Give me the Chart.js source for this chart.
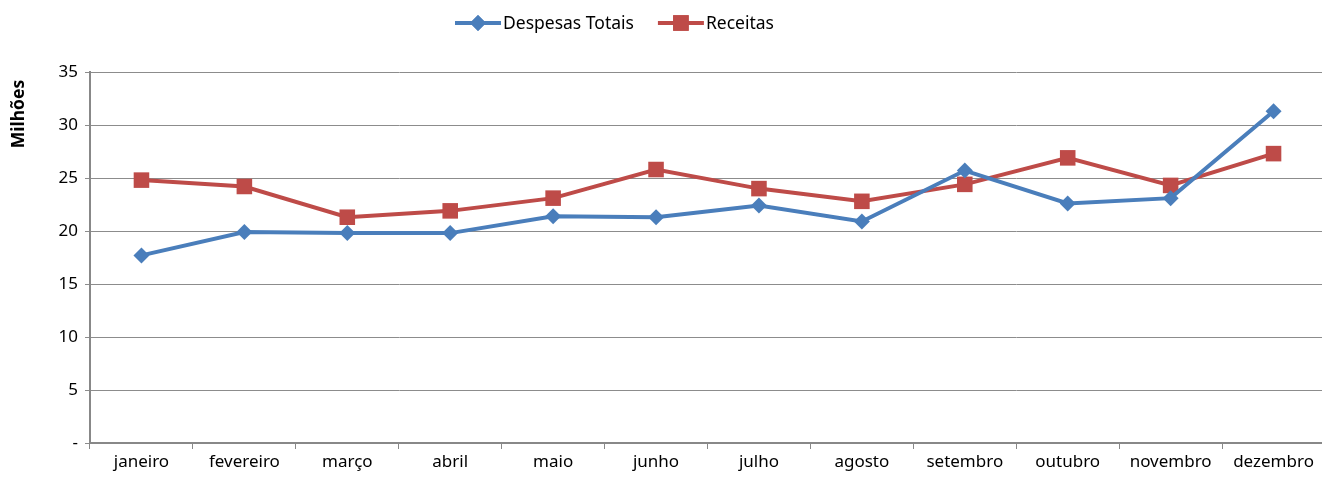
<!DOCTYPE html>
<html>
<head>
<meta charset="utf-8">
<script src="https://cdn.jsdelivr.net/npm/chart.js@4.4.1/dist/chart.umd.min.js"></script>
<style>
  html, body { margin: 0; padding: 0; background: #fff; overflow: hidden; }
  /* the original plot runs a few pixels past the right edge of the image */
  #wrap { width: 1336px; height: 481px; position: relative; }
</style>
</head>
<body>
<div id="wrap"><canvas id="chart"></canvas></div>
<script>
// --- data (valores em milhões) ---
const months = ['janeiro', 'fevereiro', 'março', 'abril', 'maio', 'junho',
                'julho', 'agosto', 'setembro', 'outubro', 'novembro', 'dezembro'];
const despesasTotais = [17.7, 19.9, 19.8, 19.8, 21.4, 21.3, 22.4, 20.9, 25.7, 22.6, 23.1, 31.3];
const receitas = [24.8, 24.2, 21.3, 21.9, 23.1, 25.8, 24.0, 22.8, 24.4, 26.9, 24.3, 27.3];
const yTicks = [0, 5, 10, 15, 20, 25, 30, 35];

const FONT = "'Noto Sans', sans-serif";
const BLUE = '#4A7EBB';
const RED = '#BE4B48';

// legend (line + marker) and the y title near the top, like the original
const extras = {
    id: 'extras',
    afterDraw(chart) {
        const ctx = chart.ctx;
        const items = [
            { text: 'Despesas Totais', color: BLUE, style: 'rectRot', r: 8 },
            { text: 'Receitas', color: RED, style: 'rect', r: 11 }
        ];
        ctx.save();
        ctx.font = '17.5px ' + FONT;
        ctx.textBaseline = 'middle';
        const y = 23;
        let x = 455;
        items.forEach(function (it) {
            ctx.strokeStyle = it.color;
            ctx.lineWidth = 4;
            ctx.beginPath();
            ctx.moveTo(x, y);
            ctx.lineTo(x + 46, y);
            ctx.stroke();
            ctx.fillStyle = it.color;
            Chart.helpers.drawPoint(ctx, { pointStyle: it.style, radius: it.r, borderWidth: 0 }, x + 23, y);
            ctx.fill();
            ctx.fillStyle = '#000';
            ctx.fillText(it.text, x + 48, y + 1);
            x += 48 + ctx.measureText(it.text).width + 24;
        });

        // "Milhões" rotated, placed high on the axis
        ctx.translate(19, 114);
        ctx.rotate(-Math.PI / 2);
        ctx.font = 'bold 17.5px ' + FONT;
        ctx.textAlign = 'center';
        ctx.fillText('Milhões', 0, 0);
        ctx.restore();
    }
};

new Chart(document.getElementById('chart'), {
    type: 'line',
    data: {
        labels: months,
        datasets: [{
            label: 'Despesas Totais',
            data: despesasTotais,
            borderColor: BLUE,
            backgroundColor: BLUE,
            borderWidth: 4,
            pointStyle: 'rectRot',
            pointRadius: 8,
            pointBorderWidth: 0,
            tension: 0
        }, {
            label: 'Receitas',
            data: receitas,
            borderColor: RED,
            backgroundColor: RED,
            borderWidth: 4,
            pointStyle: 'rect',
            pointRadius: 11,
            pointBorderWidth: 0,
            tension: 0
        }]
    },
    options: {
        responsive: true,
        maintainAspectRatio: false,
        animation: false,
        layout: { padding: { top: 72, right: 0, left: 0, bottom: 0 } },
        plugins: {
            legend: { display: false },
            tooltip: { enabled: false }
        },
        scales: {
            x: {
                offset: true,
                grid: {
                    offset: true,
                    drawOnChartArea: false,
                    color: '#888',
                    tickLength: 6
                },
                border: { color: '#888', width: 2 },
                ticks: {
                    color: '#000',
                    font: { family: FONT, size: 17 },
                    maxRotation: 0,
                    autoSkip: false,
                    padding: 3
                },
                afterFit(s) { s.height = 38; }
            },
            y: {
                min: 0,
                max: 35,
                afterBuildTicks(s) { s.ticks = yTicks.map(v => ({ value: v })); },
                grid: {
                    color: '#8c8c8c',
                    lineWidth: 1,
                    tickLength: 5
                },
                border: { color: '#888', width: 2 },
                ticks: {
                    color: '#000',
                    font: { family: FONT, size: 17 },
                    padding: 7,
                    callback: v => v === 0 ? '-' : String(v)
                },
                afterFit(s) { s.width = 90; }
            }
        }
    },
    plugins: [extras]
});
</script>
</body>
</html>
